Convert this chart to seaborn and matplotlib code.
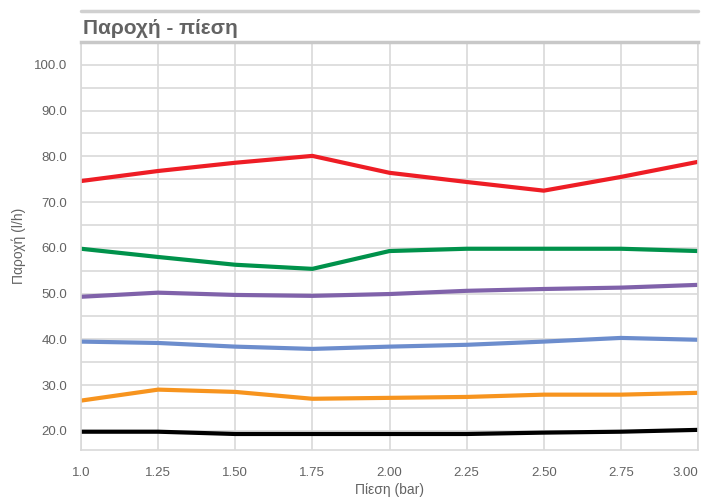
import matplotlib
matplotlib.use("Agg")
import matplotlib.pyplot as plt
from matplotlib.ticker import MultipleLocator, FixedLocator
from matplotlib.lines import Line2D
import pandas as pd
import seaborn as sns

# pressure (bar)
pressure = [1.0, 1.25, 1.5, 1.75, 2.0, 2.25, 2.5, 2.75, 3.0]
x_labels = ["1.0", "1.25", "1.50", "1.75", "2.00", "2.25", "2.50", "2.75", "3.00"]

# flow (l/h) per series
red = [74.6, 76.8, 78.6, 80.1, 76.4, 74.4, 72.5, 75.5, 78.8]
green = [59.8, 58.0, 56.3, 55.4, 59.3, 59.8, 59.8, 59.8, 59.3]
purple = [49.3, 50.2, 49.7, 49.5, 49.9, 50.6, 51.0, 51.3, 51.9]
blue = [39.5, 39.2, 38.4, 37.9, 38.4, 38.8, 39.5, 40.3, 39.9]
orange = [26.6, 29.0, 28.5, 27.0, 27.2, 27.4, 27.9, 27.9, 28.3]
black = [19.8, 19.8, 19.3, 19.3, 19.3, 19.3, 19.6, 19.8, 20.2]

series = {"red": red, "green": green, "purple": purple,
          "blue": blue, "orange": orange, "black": black}
palette = {"red": "#EE1D25", "green": "#00924B", "purple": "#8062AA",
           "blue": "#6C8DCD", "orange": "#F7941E", "black": "#000000"}

rows = []
for name, vals in series.items():
    for p, v in zip(pressure, vals):
        rows.append({"p": p, "q": v, "s": name})
df = pd.DataFrame(rows)

sns.set_style("white")
plt.rcParams["font.family"] = ["Liberation Sans", "DejaVu Sans"]

fig = plt.figure(figsize=(7.02, 4.99), dpi=100)
ax = fig.add_axes([81 / 702, 49 / 499, 617 / 702, 408 / 499])

sns.lineplot(data=df, x="p", y="q", hue="s", palette=palette, linewidth=3.0,
             legend=False, ax=ax, solid_capstyle="butt", solid_joinstyle="round")

grid_c = "#D9D9D9"
ax.set_xlim(1.0, 3.0)
ax.set_ylim(15.8, 105)
ax.xaxis.set_major_locator(FixedLocator(pressure))
ax.set_xticklabels(x_labels)
ax.yaxis.set_major_locator(MultipleLocator(10))
ax.yaxis.set_minor_locator(MultipleLocator(5))
ax.yaxis.set_major_formatter(matplotlib.ticker.FormatStrFormatter("%.1f"))
ax.grid(True, which="both", color=grid_c, linewidth=1.2)
ax.set_axisbelow(True)
ax.tick_params(axis="both", which="both", length=0, labelsize=9.5, colors="#636363")
ax.tick_params(axis="x", pad=12)
ax.tick_params(axis="y", pad=10)
# keep the last x label inside the figure
ax.get_xticklabels()[-1].set_horizontalalignment("right")

for side in ["right", "bottom", "left"]:
    ax.spines[side].set_color(grid_c)
    ax.spines[side].set_linewidth(1.2)
ax.spines["top"].set_color("#C8C8C8")
ax.spines["top"].set_linewidth(2.5)

ax.set_xlabel("Πίεση (bar)", fontsize=10, color="#636363", labelpad=3)
ax.set_ylabel("Παροχή (l/h)", fontsize=10, color="#636363", labelpad=6)

# title band above the plot
fig.add_artist(Line2D([81 / 702, 698 / 702], [1 - 11 / 499, 1 - 11 / 499],
                      color="#D0D0D0", linewidth=2.5))
fig.text(83 / 702, 1 - 28 / 499, "Παροχή - πίεση", fontsize=15, fontweight="bold",
         color="#636363", va="center", ha="left")

plt.savefig("out.png", dpi=100)
plt.close()
